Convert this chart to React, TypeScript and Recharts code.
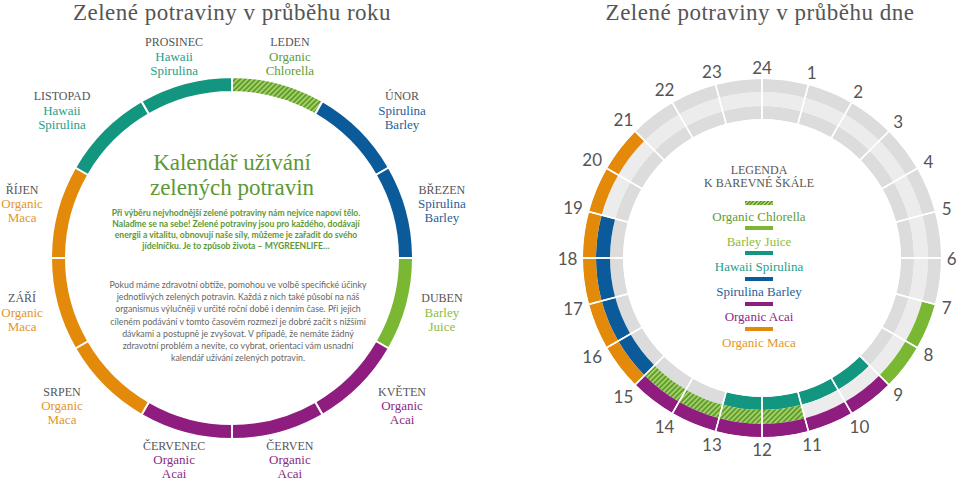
import React from "react";
import { Cell, Pie, PieChart } from "recharts";

// ---- data ----
const months = ["LEDEN", "ÚNOR", "BŘEZEN", "DUBEN", "KVĚTEN", "ČERVEN", "ČERVENEC", "SRPEN", "ZÁŘÍ", "ŘÍJEN", "LISTOPAD", "PROSINEC"];
const monthProducts = ["chlorella", "spirulinaBarley", "spirulinaBarley", "barley", "acai", "acai", "acai", "maca", "maca", "maca", "hawaii", "hawaii"];

const hourLabels = ["24", "1", "2", "3", "4", "5", "6", "7", "8", "9", "10", "11", "12", "13", "14", "15", "16", "17", "18", "19", "20", "21", "22", "23"];
// segment i runs from hour i to hour i+1
const outerRing = ["", "", "", "", "", "", "", "barley", "barley", "acai", "acai", "acai", "acai", "acai", "acai", "maca", "maca", "maca", "maca", "maca", "maca", "", "", ""];
const middleRing = ["", "", "", "", "", "", "", "", "", "", "", "chlorella", "chlorella", "chlorella", "chlorella", "spirulinaBarley", "spirulinaBarley", "spirulinaBarley", "spirulinaBarley", "", "", "", "", ""];
const innerRing = ["", "", "", "", "", "", "", "", "", "hawaii", "hawaii", "hawaii", "hawaii", "", "", "", "", "", "", "", "", "", "", ""];

const legendOrder = ["chlorella", "barley", "hawaii", "spirulinaBarley", "acai", "maca"];

const productNames: Record<string, string> = {
  chlorella: "Organic Chlorella",
  barley: "Barley Juice",
  hawaii: "Hawaii Spirulina",
  spirulinaBarley: "Spirulina Barley",
  acai: "Organic Acai",
  maca: "Organic Maca",
};
const productLines: Record<string, string[]> = {
  chlorella: ["Organic", "Chlorella"],
  barley: ["Barley", "Juice"],
  hawaii: ["Hawaii", "Spirulina"],
  spirulinaBarley: ["Spirulina", "Barley"],
  acai: ["Organic", "Acai"],
  maca: ["Organic", "Maca"],
};

const boldText = [
  "Při výběru nejvhodnější zelené potraviny nám nejvíce napoví tělo.",
  "Nalaďme se na sebe! Zelené potraviny jsou pro každého, dodávají",
  "energii a vitalitu, obnovují naše síly, můžeme je zařadit do svého",
  "jídelníčku. Je to způsob života – MYGREENLIFE…",
];
const bodyText = [
  "Pokud máme zdravotní obtíže, pomohou ve volbě specifické účinky",
  "jednotlivých zelených potravin. Každá z nich také působí na náš",
  "organismus výlučněji v určité roční době i denním čase. Při jejich",
  "cíleném podávání v tomto časovém rozmezí je dobré začít s nižšími",
  "dávkami a postupně je zvyšovat. V případě, že nemáte žádný",
  "zdravotní problém a nevíte, co vybrat, orientaci vám usnadní",
  "kalendář užívání zelených potravin.",
];

// ---- styles ----
const fill: Record<string, string> = {
  chlorella: "url(#chlorellaHatch)",
  barley: "#7ab833",
  hawaii: "#12967f",
  spirulinaBarley: "#0b5a9a",
  acai: "#8f1d80",
  maca: "#e38a0b",
};
const textColor: Record<string, string> = {
  chlorella: "#5f9c35",
  barley: "#8cbd3c",
  hawaii: "#25a08a",
  spirulinaBarley: "#1f5f9b",
  acai: "#8c2a85",
  maca: "#e2962c",
};
const GRAY = "#dcdcdc";
const LIGHT = "#ececec";
const SERIF = "'Liberation Serif', serif";
const SANS = "Lato, 'Open Sans', sans-serif";

const L = { cx: 232, cy: 258 };
const R = { cx: 762, cy: 258 };
const RAD = Math.PI / 180;

const toRows = (arr: string[]) => arr.map((k, i) => ({ name: String(i), key: k, value: 1 }));

const monthLabel = (props: any) => {
  const { cx, cy, midAngle, index } = props;
  const t = (90 - midAngle) * RAD;
  const s = Math.sin(t);
  const c = Math.cos(t);
  const push = 18 * Math.pow(Math.abs(Math.sin(2 * t)), 3) * Math.sign(s);
  const x = cx + 215 * s + push;
  const y = cy - 209 * c;
  const p = monthProducts[index];
  const lines = productLines[p];
  return (
    <text x={x} y={y} textAnchor="middle" fontFamily={SERIF} fontSize={13}>
      <tspan x={x} y={y - 14} dominantBaseline="central" fill="#555" fontSize={12}>{months[index]}</tspan>
      <tspan x={x} y={y} dominantBaseline="central" fill={textColor[p]}>{lines[0]}</tspan>
      <tspan x={x} y={y + 14} dominantBaseline="central" fill={textColor[p]}>{lines[1]}</tspan>
    </text>
  );
};

const hourLabel = (props: any) => {
  const { cx, cy, midAngle, index } = props;
  const t = (90 - midAngle) * RAD;
  const s = Math.sin(t);
  const c = Math.cos(t);
  const label = hourLabels[index];
  const halfW = label.length * 4.7;
  const r = 185 + halfW * Math.abs(s) + 6 * Math.abs(c);
  return (
    <text x={cx + r * s} y={cy - r * c} textAnchor="middle" dominantBaseline="central" fontFamily={SANS} fontSize={17} fill="#555">
      {label}
    </text>
  );
};

const Txt = ({ x, y, w, size, color, family, weight, lh, ls, children }: any) => (
  <div
    style={{
      position: "absolute",
      left: x - w / 2,
      top: y - lh / 2,
      width: w,
      textAlign: "center",
      fontFamily: family,
      fontSize: size,
      fontWeight: weight ?? 400,
      letterSpacing: ls ?? 0,
      color,
      lineHeight: `${lh}px`,
      whiteSpace: "nowrap",
    }}
  >
    {children}
  </div>
);

export default function App() {
  const ring = (data: string[], inner: number, outer: number, empty: string) => (
    <Pie
      data={toRows(data)}
      dataKey="value"
      cx={R.cx}
      cy={R.cy}
      innerRadius={inner}
      outerRadius={outer}
      startAngle={90}
      endAngle={-270}
      stroke="none"
      isAnimationActive={false}
    >
      {data.map((k, i) => (
        <Cell key={i} fill={k ? fill[k] : empty} />
      ))}
    </Pie>
  );

  return (
    <div style={{ position: "absolute", left: 0, top: 0, width: 960, height: 485, background: "#fff", overflow: "hidden" }}>
      <svg width={0} height={0} style={{ position: "absolute" }}>
        <defs>
          <pattern id="chlorellaHatch" patternUnits="userSpaceOnUse" width={3.6} height={3.6} patternTransform="rotate(45)">
            <rect width={3.6} height={3.6} fill="#5f9c2d" />
            <rect width={1.7} height={3.6} fill="#a8d36a" />
          </pattern>
        </defs>
      </svg>

      <PieChart width={960} height={485} margin={{ top: 0, right: 0, bottom: 0, left: 0 }} style={{ position: "absolute", left: 0, top: 0 }}>
        {/* year ring */}
        <Pie
          data={toRows(monthProducts)}
          dataKey="value"
          cx={L.cx}
          cy={L.cy}
          innerRadius={166}
          outerRadius={181}
          startAngle={90}
          endAngle={-270}
          stroke="#fff"
          strokeWidth={2}
          label={monthLabel}
          labelLine={false}
          isAnimationActive={false}
        >
          {monthProducts.map((k, i) => (
            <Cell key={i} fill={fill[k]} />
          ))}
        </Pie>

        {/* day rings */}
        {ring(innerRing, 139, 152, GRAY)}
        {ring(middleRing, 152, 166, LIGHT)}
        {ring(outerRing, 166, 179, GRAY)}
        <Pie
          data={toRows(hourLabels)}
          dataKey="value"
          cx={R.cx}
          cy={R.cy}
          innerRadius={138}
          outerRadius={180}
          startAngle={90}
          endAngle={-270}
          fill="none"
          stroke="#fff"
          strokeWidth={1.5}
          isAnimationActive={false}
        >
          {hourLabels.map((h, i) => (
            <Cell key={i} fill="none" />
          ))}
        </Pie>
        <Pie
          data={toRows(hourLabels)}
          dataKey="value"
          cx={R.cx}
          cy={R.cy}
          innerRadius={180}
          outerRadius={181}
          startAngle={97.5}
          endAngle={-262.5}
          fill="none"
          stroke="none"
          label={hourLabel}
          labelLine={false}
          isAnimationActive={false}
        >
          {hourLabels.map((h, i) => (
            <Cell key={i} fill="none" />
          ))}
        </Pie>
      </PieChart>

      {/* titles */}
      <Txt x={232} y={13} w={460} size={23} lh={26} ls={0.5} family={SERIF} color="#555">Zelené potraviny v průběhu roku</Txt>
      <Txt x={760} y={13} w={400} size={23} lh={26} ls={0.5} family={SERIF} color="#555">Zelené potraviny v průběhu dne</Txt>

      {/* year center */}
      <Txt x={232} y={163} w={300} size={23} lh={26} family={SERIF} color="#5d9836">Kalendář užívání</Txt>
      <Txt x={232} y={188} w={300} size={23} lh={26} family={SERIF} color="#5d9836">zelených potravin</Txt>
      {boldText.map((line, i) => (
        <Txt key={i} x={236} y={213 + i * 11.1} w={300} size={8.6} lh={11} family={SANS} weight={700} color="#5d9836">{line}</Txt>
      ))}
      {bodyText.map((line, i) => (
        <Txt key={i} x={238} y={285 + i * 12.2} w={300} size={8.8} lh={12} family={SANS} color="#666">{line}</Txt>
      ))}

      {/* day legend */}
      <Txt x={759} y={170} w={200} size={12} lh={14} family={SERIF} color="#555">LEGENDA</Txt>
      <Txt x={759} y={183} w={200} size={12} lh={14} family={SERIF} color="#555">K BAREVNÉ ŠKÁLE</Txt>
      {legendOrder.map((k, i) => (
        <React.Fragment key={k}>
          <div
            style={{
              position: "absolute",
              left: 745,
              top: 201 + i * 25.2,
              width: 28,
              height: 4,
              background:
                k === "chlorella"
                  ? "repeating-linear-gradient(-45deg, #5f9c2d 0 1.4px, #a8d36a 1.4px 2.6px)"
                  : fill[k],
            }}
          />
          <Txt x={759} y={216 + i * 25.2} w={200} size={13} lh={15} family={SERIF} color={textColor[k]}>
            {productNames[k]}
          </Txt>
        </React.Fragment>
      ))}
    </div>
  );
}
